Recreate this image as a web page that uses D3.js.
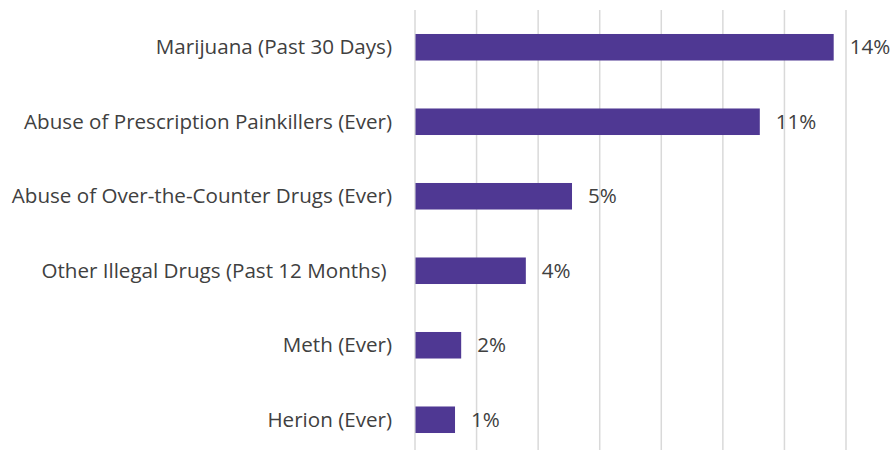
<!DOCTYPE html>
<html>
<head>
<meta charset="utf-8">
<script src="https://cdn.jsdelivr.net/npm/d3@7"></script>
<style>
  html, body { margin: 0; padding: 0; background: #ffffff; }
  svg { display: block; }
  text { white-space: pre; }
</style>
</head>
<body>
<svg id="chart" width="891" height="450"></svg>
<script>
const categories = [
  "Marijuana (Past 30 Days)",
  "Abuse of Prescription Painkillers (Ever)",
  "Abuse of Over-the-Counter Drugs (Ever)",
  "Other Illegal Drugs (Past 12 Months) ",
  "Meth (Ever)",
  "Herion (Ever)"
];
const values = [13.6, 11.2, 5.1, 3.6, 1.5, 1.3];
const valueLabels = ["14%", "11%", "5%", "4%", "2%", "1%"];
const xTicks = [0, 2, 4, 6, 8, 10, 12, 14];

const svg = d3.select("#chart");
const fontFamily = "'Open Sans', 'Noto Sans', sans-serif";
const textColor = "#404040";
const barColor = "#4f3893";

const x = d3.scaleLinear().domain([0, 14]).range([415, 846]);
const y = d3.scaleBand().domain(categories).range([10, 457])
  .paddingInner(0.644).paddingOuter(0.322);

// gridlines
svg.append("g").selectAll("line").data(xTicks).join("line")
  .attr("x1", d => x(d)).attr("x2", d => x(d))
  .attr("y1", 10).attr("y2", 457)
  .attr("stroke", "#d9d9d9").attr("stroke-width", 1.5);

// bars
svg.append("g").selectAll("rect").data(categories).join("rect")
  .attr("x", x(0) + 0.5)
  .attr("y", d => y(d))
  .attr("width", (d, i) => x(values[i]) - x(0) - 0.5)
  .attr("height", y.bandwidth())
  .attr("fill", barColor);

// category labels
const fs = 20.6;
svg.append("g").selectAll("text").data(categories).join("text")
  .attr("x", 392)
  .attr("y", d => y(d) + y.bandwidth() / 2)
  .attr("dy", "0.35em")
  .attr("text-anchor", "end")
  .attr("font-family", fontFamily)
  .attr("font-size", fs)
  .attr("fill", textColor)
  .text(d => d);

// value labels
svg.append("g").selectAll("text").data(categories).join("text")
  .attr("x", (d, i) => x(values[i]) + 16)
  .attr("y", d => y(d) + y.bandwidth() / 2)
  .attr("dy", "0.35em")
  .attr("font-family", fontFamily)
  .attr("font-size", fs)
  .attr("fill", textColor)
  .text((d, i) => valueLabels[i]);
</script>
</body>
</html>
